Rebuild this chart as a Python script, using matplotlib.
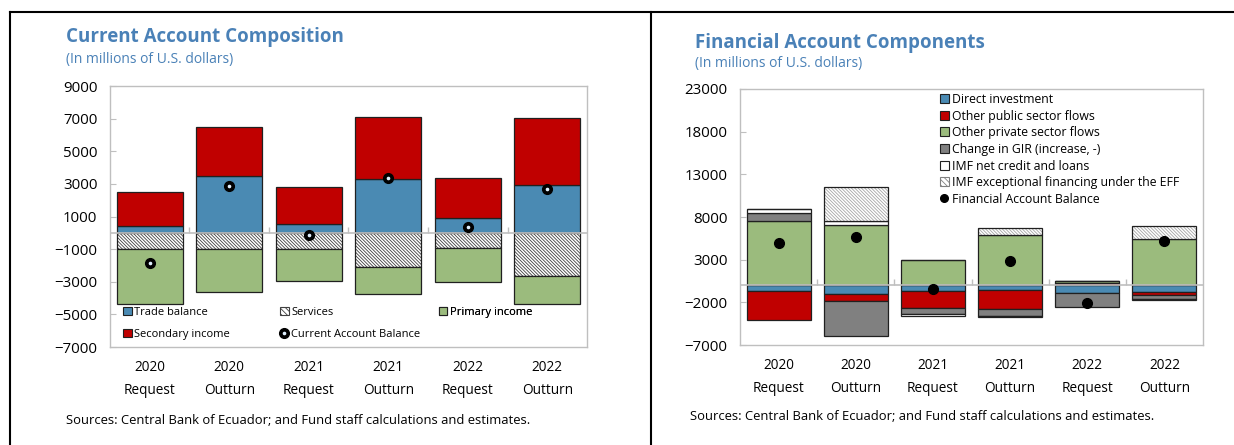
import numpy as np
import matplotlib
matplotlib.use('Agg')
import matplotlib.pyplot as plt
from matplotlib.patches import Patch
from matplotlib.lines import Line2D

plt.rcParams['font.family'] = ['Open Sans', 'DejaVu Sans']
plt.rcParams['hatch.linewidth'] = 0.6

categories = ['2020\nRequest', '2020\nOutturn', '2021\nRequest',
              '2021\nOutturn', '2022\nRequest', '2022\nOutturn']

# current account (millions of US$)
trade = [430, 3470, 570, 3270, 900, 2960]
services = [-1000, -1000, -1000, -2080, -960, -2670]
primary = [-3390, -2630, -1940, -1670, -2080, -1700]
secondary = [2080, 3020, 2210, 3850, 2470, 4100]
ca_balance = [-1880, 2860, -140, 3370, 330, 2710]

# financial account (millions of US$)
direct = [-625, -1050, -700, -590, -860, -780]
public = [-3440, -790, -1960, -2150, 250, -400]
private = [7540, 7070, 3010, 5860, 200, 5390]
gir = [900, -4140, -740, -860, -1680, -450]
imf_net = [510, 510, -150, -120, 0, -150]
eff = [0, 3980, 0, 820, 0, 1600]
fa_balance = [4920, 5625, -470, 2810, -2110, 5230]

BLUE = '#4a8ab3'
RED = '#c00000'
GREEN = '#9bbb7d'
GREY = '#808080'
TITLE = '#4a81b7'
FRAME = '#bfbfbf'
HATCH = '\\' * 10


def stacked(ax, series, x, width=0.83):
    pos = np.zeros(len(x))
    neg = np.zeros(len(x))
    for vals, style in series:
        vals = np.array(vals, dtype=float)
        bottom = np.where(vals >= 0, pos, neg)
        hatch_col = style.pop('hatchcolor', None)
        if hatch_col is not None:
            ax.bar(x, vals, width, bottom=bottom, color='white',
                   edgecolor=hatch_col, hatch=style['hatch'], lw=0, zorder=2)
            ax.bar(x, vals, width, bottom=bottom, fill=False,
                   edgecolor='#202020', lw=0.9, zorder=2)
        else:
            ax.bar(x, vals, width, bottom=bottom, edgecolor='#202020',
                   lw=0.9, zorder=2, **style)
        pos = pos + np.where(vals >= 0, vals, 0)
        neg = neg + np.where(vals < 0, vals, 0)


def frame(ax, x):
    for s in ax.spines.values():
        s.set_color(FRAME)
        s.set_linewidth(1.0)
    ax.axhline(0, color=FRAME, lw=1.2, zorder=3)
    ax.plot(x[:-1] + 0.5, np.zeros(len(x) - 1), ls='none', marker=2,
            markersize=4, color=FRAME, zorder=3)
    ax.set_xlim(-0.5, len(x) - 0.5)
    ax.set_xticks(x)
    ax.set_xticklabels(categories, fontsize=9.8, linespacing=1.75)
    ax.tick_params(axis='x', length=0, pad=9)
    ax.tick_params(axis='y', direction='in', length=4, color=FRAME,
                   labelsize=10.8, pad=9)


fig = plt.figure(figsize=(12.34, 4.45), dpi=100)
x = np.arange(len(categories))

# ---- left panel
ax1 = fig.add_axes([0.0891, 0.2202, 0.3866, 0.5865])
stacked(ax1, [
    (trade, dict(color=BLUE)),
    (services, dict(hatch=HATCH, hatchcolor='#404040')),
    (primary, dict(color=GREEN)),
    (secondary, dict(color=RED)),
], x)
ax1.plot(x, ca_balance, ls='none', marker='o', ms=7, color='black', zorder=4)
ax1.plot(x, ca_balance, ls='none', marker='o', ms=1.6, color='#e0f0ff',
         zorder=5)
frame(ax1, x)
ax1.set_ylim(-7000, 9000)
ax1.set_yticks(np.arange(-7000, 9001, 2000))

h_dot = (Line2D([], [], ls='none', marker='o', ms=7, color='black'),
         Line2D([], [], ls='none', marker='o', ms=1.6, color='#e0f0ff'))
leg_cols = [
    ([Patch(facecolor=BLUE, edgecolor='#202020', lw=0.8),
      Patch(facecolor=RED, edgecolor='#202020', lw=0.8)],
     ['Trade balance', 'Secondary income'], 0.028),
    ([Patch(facecolor='white', edgecolor='#404040', hatch='\\' * 6, lw=0.8),
      h_dot],
     ['Services', 'Current Account Balance'], 0.357),
    ([Patch(facecolor=GREEN, edgecolor='#202020', lw=0.8)],
     ['Primary income'], 0.689),
]
for hs, ls, xa in leg_cols:
    lg = ax1.legend(hs, ls, loc='upper left', bbox_to_anchor=(xa, 0.153),
                    frameon=False, fontsize=8, handlelength=0.75,
                    handleheight=0.75, handletextpad=0.25, labelspacing=0.95,
                    borderaxespad=0, borderpad=0)
    ax1.add_artist(lg)

fig.text(66 / 1234, 1 - 37 / 445, 'Current Account Composition', color=TITLE,
         fontsize=13.5, fontweight='bold', va='center')
fig.text(66 / 1234, 1 - 59 / 445, '(In millions of U.S. dollars)', color=TITLE,
         fontsize=10, va='center')
fig.text(66 / 1234, 1 - 420 / 445,
         'Sources: Central Bank of Ecuador; and Fund staff calculations and estimates.',
         fontsize=9.4, va='center')

# ---- right panel
ax2 = fig.add_axes([0.5997, 0.2247, 0.3752, 0.5753])
stacked(ax2, [
    (direct, dict(color=BLUE)),
    (public, dict(color=RED)),
    (private, dict(color=GREEN)),
    (gir, dict(color=GREY)),
    (imf_net, dict(color='white')),
    (eff, dict(hatch=HATCH, hatchcolor='#a6a6a6')),
], x)
ax2.plot(x, fa_balance, ls='none', marker='o', ms=7, color='black', zorder=4)
frame(ax2, x)
ax2.set_ylim(-7000, 23000)
ax2.set_yticks(np.arange(-7000, 23001, 5000))

handles2 = [Patch(facecolor=BLUE, edgecolor='#202020', lw=0.8),
            Patch(facecolor=RED, edgecolor='#202020', lw=0.8),
            Patch(facecolor=GREEN, edgecolor='#202020', lw=0.8),
            Patch(facecolor=GREY, edgecolor='#202020', lw=0.8),
            Patch(facecolor='white', edgecolor='#202020', lw=0.8),
            Patch(facecolor='white', edgecolor='#808080', hatch='\\' * 6, lw=0.8),
            Line2D([], [], ls='none', marker='o', ms=5.5, color='black')]
labels2 = ['Direct investment', 'Other public sector flows',
           'Other private sector flows', 'Change in GIR (increase, -)',
           'IMF net credit and loans', 'IMF exceptional financing under the EFF',
           'Financial Account Balance']
ax2.legend(handles2, labels2, loc='upper left', bbox_to_anchor=(0.431, 0.985),
           frameon=False, fontsize=8.8, handlelength=0.75, handleheight=0.75,
           handletextpad=0.25, labelspacing=0.3, borderaxespad=0, borderpad=0)

fig.text(695 / 1234, 1 - 43 / 445, 'Financial Account Components', color=TITLE,
         fontsize=13.5, fontweight='bold', va='center')
fig.text(695 / 1234, 1 - 64 / 445, '(In millions of U.S. dollars)', color=TITLE,
         fontsize=10, va='center')
fig.text(690 / 1234, 1 - 417 / 445,
         'Sources: Central Bank of Ecuador; and Fund staff calculations and estimates.',
         fontsize=9.4, va='center')

# panel borders
fig.add_artist(Line2D([10 / 1234, 1], [1 - 12 / 445] * 2, color='black', lw=1.5))
fig.add_artist(Line2D([10 / 1234] * 2, [0, 1 - 12 / 445], color='black', lw=1.5))
fig.add_artist(Line2D([651 / 1234] * 2, [0, 1 - 12 / 445], color='black', lw=1.5))

fig.savefig('out.png', dpi=100)
